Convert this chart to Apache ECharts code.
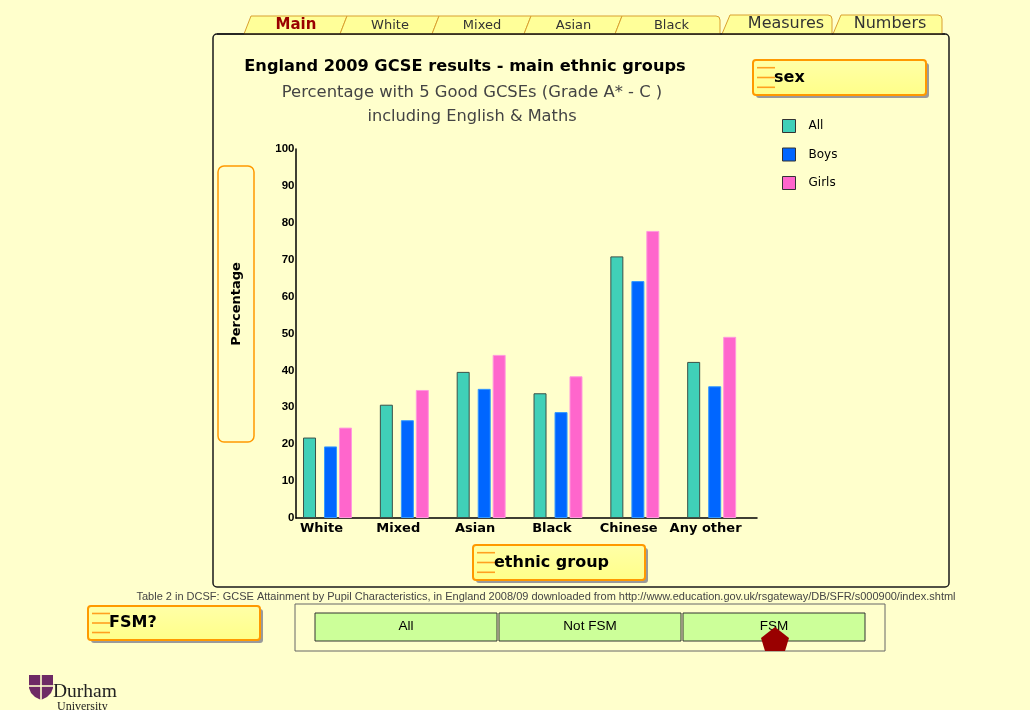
<!DOCTYPE html>
<html>
<head>
<meta charset="utf-8">
<script src="https://cdn.jsdelivr.net/npm/echarts@6/dist/echarts.min.js"></script>
<style>
html,body{margin:0;padding:0;background:#FFFFCC;}
#chart{width:1030px;height:710px;}
</style>
</head>
<body>
<div id="chart"></div>
<script>
// ---- data ----
const categories = ['White', 'Mixed', 'Asian', 'Black', 'Chinese', 'Any other'];
const allPupils = [21.8, 30.7, 39.6, 33.8, 70.9, 42.3];
const boys = [19.4, 26.5, 35.0, 28.7, 64.2, 35.7];
const girls = [24.5, 34.7, 44.2, 38.4, 77.8, 49.1];
const seriesNames = ['All', 'Boys', 'Girls'];
const tabLabels = ['Main', 'White', 'Mixed', 'Asian', 'Black'];
const sideTabs = ['Measures', 'Numbers'];
const fsmOptions = ['All', 'Not FSM', 'FSM'];
const titleText = 'England 2009 GCSE results - main ethnic groups';
const subtitleLines = ['Percentage with 5 Good GCSEs (Grade A* - C )', 'including English & Maths'];
const sourceText = 'Table 2 in DCSF: GCSE Attainment by Pupil Characteristics, in England 2008/09 downloaded from http://www.education.gov.uk/rsgateway/DB/SFR/s000900/index.shtml';

const chart = echarts.init(document.getElementById('chart'), null, {renderer: 'canvas'});

const TAB_FILL = '#FFFF99', TAB_STROKE = '#D9A030';
const graphics = [];

// main panel
graphics.push({type: 'rect', shape: {x: 213, y: 34, width: 736, height: 553, r: 4},
  style: {fill: '#FFFFCC', stroke: '#1a1a1a', lineWidth: 1.5}, z: 0});

// tabs
const tabX = [244, 340, 432, 524, 615, 720];
for (let i = 0; i < tabLabels.length; i++) {
  const l = tabX[i], r = tabX[i + 1];
  let pts;
  if (i < tabLabels.length - 1) {
    pts = [[l, 34], [l + 7, 16], [r + 7, 16], [r, 34]];
  } else {
    pts = [[l, 34], [l + 7, 16], [r - 4, 16], [r - 1, 17], [r, 20], [r, 34]];
  }
  graphics.push({type: 'polygon', shape: {points: pts},
    style: {fill: TAB_FILL, stroke: TAB_STROKE, lineWidth: 1}, z: 1});
}
for (let i = 0; i < tabLabels.length; i++) {
  const cx = (tabX[i] + tabX[i + 1]) / 2 + 4;
  graphics.push({type: 'text', z: 3, style: {x: cx, y: 25.5, text: tabLabels[i],
    align: 'center', verticalAlign: 'middle',
    font: i === 0 ? 'bold 15px "DejaVu Sans"' : '13px "DejaVu Sans"',
    fill: i === 0 ? '#990000' : '#333333'}});
}
const sideTabX = [[722, 832, 786], [833, 942, 890]];
sideTabX.forEach((t, i) => {
  const [l, r, cx] = t;
  graphics.push({type: 'polygon', z: 1, shape: {points: [[l, 34], [l + 8, 15], [r - 4, 15], [r - 1, 16], [r, 19], [r, 34]]},
    style: {fill: TAB_FILL, stroke: TAB_STROKE, lineWidth: 1}});
  graphics.push({type: 'text', z: 3, style: {x: cx, y: 24, text: sideTabs[i], align: 'center', verticalAlign: 'middle',
    font: '16px "DejaVu Sans"', fill: '#333333'}});
});
graphics.push({type: 'line', shape: {x1: 217, y1: 34, x2: 945, y2: 34}, style: {stroke: '#1a1a1a', lineWidth: 1.5}, z: 2});

// titles
graphics.push({type: 'text', z: 3, style: {x: 465, y: 67, text: titleText, align: 'center', verticalAlign: 'middle',
  font: 'bold 16.2px "DejaVu Sans"', fill: '#000'}});
graphics.push({type: 'text', z: 3, style: {x: 472, y: 93, text: subtitleLines[0], align: 'center', verticalAlign: 'middle',
  font: '16.4px "DejaVu Sans"', fill: '#444'}});
graphics.push({type: 'text', z: 3, style: {x: 472, y: 117, text: subtitleLines[1], align: 'center', verticalAlign: 'middle',
  font: '16.2px "DejaVu Sans"', fill: '#444'}});

// buttons
function button(x, y, w, h, label) {
  graphics.push({type: 'rect', z: 2, shape: {x: x + 3, y: y + 3, width: w, height: h, r: 3}, style: {fill: '#9a9a9a'}});
  graphics.push({type: 'rect', z: 3, shape: {x: x, y: y, width: w, height: h, r: 3},
    style: {fill: {type: 'linear', x: 0, y: 0, x2: 0, y2: 1, colorStops: [{offset: 0, color: '#FFFFA8'}, {offset: 1, color: '#FFFF88'}]},
      stroke: '#FF9900', lineWidth: 2}});
  [0.22, 0.5, 0.78].forEach(f => {
    graphics.push({type: 'line', z: 4, shape: {x1: x + 4, y1: y + h * f, x2: x + 22, y2: y + h * f},
      style: {stroke: '#FFA020', lineWidth: 1.6}});
  });
  graphics.push({type: 'text', z: 5, style: {x: x + 21, y: y + h / 2, text: label, align: 'left', verticalAlign: 'middle',
    font: 'bold 16px "DejaVu Sans"', fill: '#000'}});
}
button(753, 60, 173, 35, 'sex');
button(473, 545, 172, 35, 'ethnic group');
button(88, 606, 172, 34, 'FSM?');

// percentage box
graphics.push({type: 'rect', z: 2, shape: {x: 218, y: 166, width: 36, height: 276, r: 6},
  style: {fill: 'none', stroke: '#FF9900', lineWidth: 1.5}});
graphics.push({type: 'text', z: 3, x: 237, y: 304, rotation: Math.PI / 2,
  style: {x: 0, y: 0, text: 'Percentage', align: 'center', verticalAlign: 'middle', font: 'bold 13px "DejaVu Sans"', fill: '#000'}});

// source
graphics.push({type: 'text', z: 3, style: {x: 546, y: 597, text: sourceText, align: 'center', verticalAlign: 'middle',
  font: '11px "Liberation Sans"', fill: '#444'}});

// FSM selector
graphics.push({type: 'rect', z: 2, shape: {x: 295, y: 604, width: 590, height: 47},
  style: {fill: '#FFFFCC', stroke: '#666', lineWidth: 1}});
fsmOptions.forEach((t, i) => {
  const x = 315 + i * 184;
  graphics.push({type: 'rect', z: 3, shape: {x: x, y: 613, width: 182, height: 28},
    style: {fill: '#CCFF99', stroke: '#333', lineWidth: 1}});
  graphics.push({type: 'text', z: 4, style: {x: x + 91, y: 626, text: t, align: 'center', verticalAlign: 'middle',
    font: '13.5px "Liberation Sans"', fill: '#000'}});
});
graphics.push({type: 'polygon', z: 5, shape: {points: [[775, 627], [789, 638], [785, 651], [765, 651], [761, 638]]},
  style: {fill: '#990000'}});

// Durham logo
graphics.push({type: 'polygon', z: 3, shape: {points: [[29, 675], [53, 675], [53, 688], [51, 693], [47, 697], [41, 700], [35, 697], [31, 693], [29, 688]]},
  style: {fill: '#6E2A65'}});
graphics.push({type: 'line', z: 4, shape: {x1: 41, y1: 675, x2: 41, y2: 700}, style: {stroke: '#FFFFCC', lineWidth: 1.6}});
graphics.push({type: 'line', z: 4, shape: {x1: 29, y1: 686, x2: 53, y2: 686}, style: {stroke: '#FFFFCC', lineWidth: 1.6}});
graphics.push({type: 'text', z: 3, style: {x: 53, y: 692, text: 'Durham', align: 'left', verticalAlign: 'middle',
  font: '19.5px "Liberation Serif"', fill: '#222'}});
graphics.push({type: 'text', z: 3, style: {x: 57, y: 707, text: 'University', align: 'left', verticalAlign: 'middle',
  font: '12px "Liberation Serif"', fill: '#222'}});

const G_TOP = 149, G_H = 369, G_W = 461;
const option = {
  backgroundColor: '#FFFFCC',
  animation: false,
  graphic: graphics,
  legend: {
    orient: 'vertical', left: 777, top: 114, itemWidth: 13, itemHeight: 13, itemGap: 14.5,
    data: seriesNames.map(n => ({name: n, icon: 'rect', itemStyle: {borderColor: '#333', borderWidth: 1}})),
    textStyle: {fontFamily: 'DejaVu Sans', fontSize: 12, color: '#000', padding: [0, 0, 0, 8], lineHeight: 13}
  },
  grid: [
    {left: 296, top: G_TOP, width: G_W, height: G_H},
    {left: 271.1, top: G_TOP, width: G_W, height: G_H},
    {left: 299.6, top: G_TOP, width: G_W, height: G_H}
  ],
  xAxis: [
    {gridIndex: 0, type: 'category', data: categories, axisTick: {show: false},
      axisLine: {lineStyle: {color: '#000', width: 1.5}},
      axisLabel: {margin: 4, color: '#000', fontFamily: 'DejaVu Sans', fontWeight: 'bold', fontSize: 13, padding: [0, 26, 0, 0], interval: 0}},
    {gridIndex: 1, type: 'category', data: categories, show: false},
    {gridIndex: 2, type: 'category', data: categories, show: false}
  ],
  yAxis: [
    {gridIndex: 0, type: 'value', min: 0, max: 100, interval: 10,
      axisLine: {show: true, lineStyle: {color: '#000', width: 1.5}}, axisTick: {show: false}, splitLine: {show: false},
      axisLabel: {margin: 1.5, color: '#000', fontWeight: 'bold', fontSize: 11.5, fontFamily: 'Liberation Sans'}},
    {gridIndex: 1, type: 'value', min: 0, max: 100, show: false, splitLine: {show: false}},
    {gridIndex: 2, type: 'value', min: 0, max: 100, show: false, splitLine: {show: false}}
  ],
  series: [
    {name: seriesNames[0], type: 'bar', xAxisIndex: 1, yAxisIndex: 1, data: allPupils, barWidth: 13,
      itemStyle: {color: '#40D0B8', borderColor: '#3A5048', borderWidth: 1}},
    {name: seriesNames[1], type: 'bar', xAxisIndex: 2, yAxisIndex: 2, data: boys, barWidth: 13, barGap: '15%',
      itemStyle: {color: '#0066FF', borderColor: '#3399FF', borderWidth: 1}},
    {name: seriesNames[2], type: 'bar', xAxisIndex: 2, yAxisIndex: 2, data: girls, barWidth: 13, barGap: '15%',
      itemStyle: {color: '#FF66CC', borderColor: '#FF99DD', borderWidth: 1}}
  ]
};
chart.setOption(option);
</script>
</body>
</html>
